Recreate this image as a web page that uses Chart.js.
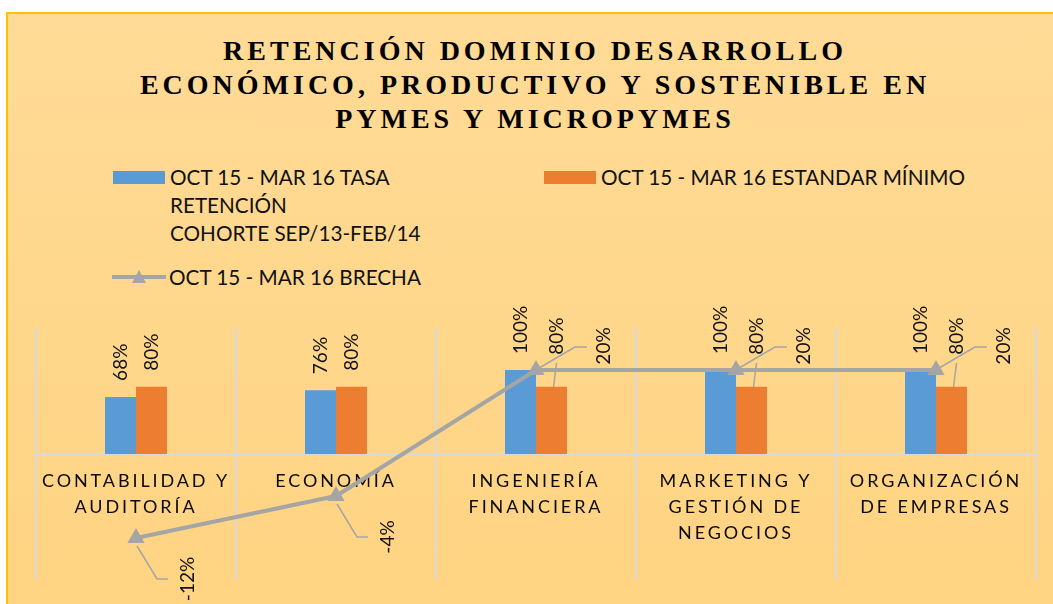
<!DOCTYPE html>
<html lang="es">
<head>
<meta charset="utf-8">
<title>Retención dominio desarrollo económico</title>
<script src="https://cdn.jsdelivr.net/npm/chart.js@4.4.1/dist/chart.umd.min.js"></script>
<style>
  html, body { margin: 0; padding: 0; background: #fff; width: 1053px; height: 604px; overflow: hidden; }
  .frame {
    position: absolute; left: 6px; top: 12px; width: 1100px; height: 640px;
    background: linear-gradient(#ffdb97, #ffd380);
    border-left: 2px solid #ffc000; border-top: 2px solid #ffc000;
  }
  .title {
    position: absolute; left: 0; width: 1070px; top: 34px; text-align: center;
    font: bold 28px "Liberation Serif", "Times New Roman", serif;
    letter-spacing: 4px; line-height: 34px; color: #000;
  }
  #legend {
    position: absolute; left: 113px; top: 163px; width: 880px;
    display: flex; flex-wrap: wrap; row-gap: 16px;
    font: 20.7px Lato, "Noto Sans", sans-serif; color: #111;
  }
  #legend .item { width: 431px; display: flex; align-items: flex-start; }
  #legend .swatch { width: 52px; height: 13px; margin-top: 7.5px; margin-right: 5px; flex: none; }
  #legend .item svg { margin-left: -1px; margin-right: 3px; flex: none; }
  #legend .text { line-height: 28px; white-space: pre-line; }
  #legend .item:first-child .text { max-width: 300px; }
  canvas { position: absolute; left: 0; top: 0; }
</style>
</head>
<body>
<div class="frame"></div>
<div class="title">RETENCIÓN DOMINIO DESARROLLO<br>ECONÓMICO, PRODUCTIVO Y SOSTENIBLE EN<br>PYMES Y MICROPYMES</div>
<div id="legend"></div>
<canvas id="chart" width="1053" height="604"></canvas>
<script>
const categories = [
  ['CONTABILIDAD Y', 'AUDITORÍA'],
  'ECONOMÍA',
  ['INGENIERÍA', 'FINANCIERA'],
  ['MARKETING Y', 'GESTIÓN DE', 'NEGOCIOS'],
  ['ORGANIZACIÓN', 'DE EMPRESAS']
];
const seriesNames = [
  'OCT 15 - MAR 16 TASA RETENCIÓN\nCOHORTE SEP/13-FEB/14',
  'OCT 15 - MAR 16 ESTANDAR MÍNIMO',
  'OCT 15 - MAR 16 BRECHA'
];
const tasaRetencion = [68, 76, 100, 100, 100];
const estandarMinimo = [80, 80, 80, 80, 80];
const brecha = [-12, -4, 20, 20, 20];

const GRAY = '#a5a5a5';

// spaced-out category labels (scales are drawn before the datasets)
const tickSpacing = {
  id: 'tickSpacing',
  beforeDraw(chart) { chart.ctx.letterSpacing = '2.9px'; },
  beforeDatasetsDraw(chart) { chart.ctx.letterSpacing = '0px'; }
};

function rotText(ctx, text, x, y, align) {
  ctx.save();
  ctx.translate(x, y);
  ctx.rotate(-Math.PI / 2);
  ctx.textAlign = align;
  ctx.fillText(text, 0, 0);
  ctx.restore();
}

function leader(ctx, pts) {
  ctx.beginPath();
  ctx.moveTo(pts[0][0], pts[0][1]);
  for (let k = 1; k < pts.length; k++) ctx.lineTo(pts[k][0], pts[k][1]);
  ctx.stroke();
}

// vertical value labels, with callout lines like the Excel original
const valueLabels = {
  id: 'valueLabels',
  afterDatasetsDraw(chart) {
    const ctx = chart.ctx;
    ctx.save();
    ctx.letterSpacing = '0px';
    ctx.font = '19px Lato, "Noto Sans", sans-serif';
    ctx.fillStyle = '#111';
    ctx.strokeStyle = GRAY;
    ctx.lineWidth = 1.5;
    ctx.textBaseline = 'middle';
    const lineMeta = chart.getDatasetMeta(2);
    chart.data.datasets.forEach((ds, di) => {
      chart.getDatasetMeta(di).data.forEach((el, i) => {
        const text = ds.data[i] + '%';
        const w = ctx.measureText(text).width;
        if (ds.type === 'bar') {
          let x = el.x, bottom = el.y - 16;
          const pt = lineMeta.data[i];
          if (di === 1 && pt.y < el.y && pt.y > bottom - w) {
            // label pushed up out of the line's way
            x = el.x + 5;
            bottom = el.y - 32;
            leader(ctx, [[x, el.y - 24], [el.x + 2, el.y]]);
          }
          rotText(ctx, text, x, bottom, 'left');
        } else if (ds.data[i] >= 0) {
          leader(ctx, [[el.x + 3, el.y - 2], [el.x + 39, el.y - 23], [el.x + 51, el.y - 23]]);
          rotText(ctx, text, el.x + 68, el.y - 24, 'center');
        } else {
          leader(ctx, [[el.x + 1, el.y + 8], [el.x + 21, el.y + 41], [el.x + 32, el.y + 41]]);
          rotText(ctx, text, el.x + 52, el.y + 41, 'center');
        }
      });
    });
    ctx.restore();
  }
};

const chart = new Chart(document.getElementById('chart'), {
  data: {
    labels: categories,
    datasets: [
      {
        type: 'bar', label: seriesNames[0], data: tasaRetencion, yAxisID: 'y',
        backgroundColor: '#5b9bd5', categoryPercentage: 0.31, barPercentage: 1, order: 2
      },
      {
        type: 'bar', label: seriesNames[1], data: estandarMinimo, yAxisID: 'y',
        backgroundColor: '#ed7d31', categoryPercentage: 0.31, barPercentage: 1, order: 2
      },
      {
        type: 'line', label: seriesNames[2], data: brecha, yAxisID: 'y2',
        borderColor: GRAY, borderWidth: 4, tension: 0,
        pointStyle: 'triangle', pointRadius: 10, pointBorderWidth: 0,
        pointBackgroundColor: GRAY, pointBorderColor: GRAY, order: 1, clip: false
      }
    ]
  },
  options: {
    responsive: false,
    animation: false,
    layout: { padding: { left: 36, right: 17, top: 328, bottom: 24 } },
    plugins: { legend: { display: false }, tooltip: { enabled: false } },
    scales: {
      x: {
        position: { y: 0 },
        grid: { color: '#d9d9d9', lineWidth: 2, drawTicks: false, offset: true },
        border: { color: '#d9d9d9', width: 2 },
        ticks: {
          color: '#0a0a0a', padding: 14, maxRotation: 0, minRotation: 0, autoSkip: false,
          font: { family: 'Lato', size: 18, lineHeight: 26 / 18 }
        }
      },
      y: { display: false, min: -150, max: 150 },
      y2: { display: false, position: 'right', min: -20, max: 28 }
    }
  },
  plugins: [tickSpacing, valueLabels]
});

// legend built from the chart's datasets
const legendEl = document.getElementById('legend');
chart.data.datasets.forEach((ds) => {
  const item = document.createElement('div');
  item.className = 'item';
  if (ds.type === 'line') {
    item.innerHTML = '<svg width="54" height="28"><line x1="0" y1="14" x2="54" y2="14" stroke="' + ds.borderColor +
      '" stroke-width="4"/><polygon points="27,7 34,20 20,20" fill="' + ds.pointBackgroundColor + '"/></svg>';
  } else {
    const sw = document.createElement('span');
    sw.className = 'swatch';
    sw.style.background = ds.backgroundColor;
    item.appendChild(sw);
  }
  const t = document.createElement('span');
  t.className = 'text';
  t.textContent = ds.label;
  item.appendChild(t);
  legendEl.appendChild(item);
});
</script>
</body>
</html>
